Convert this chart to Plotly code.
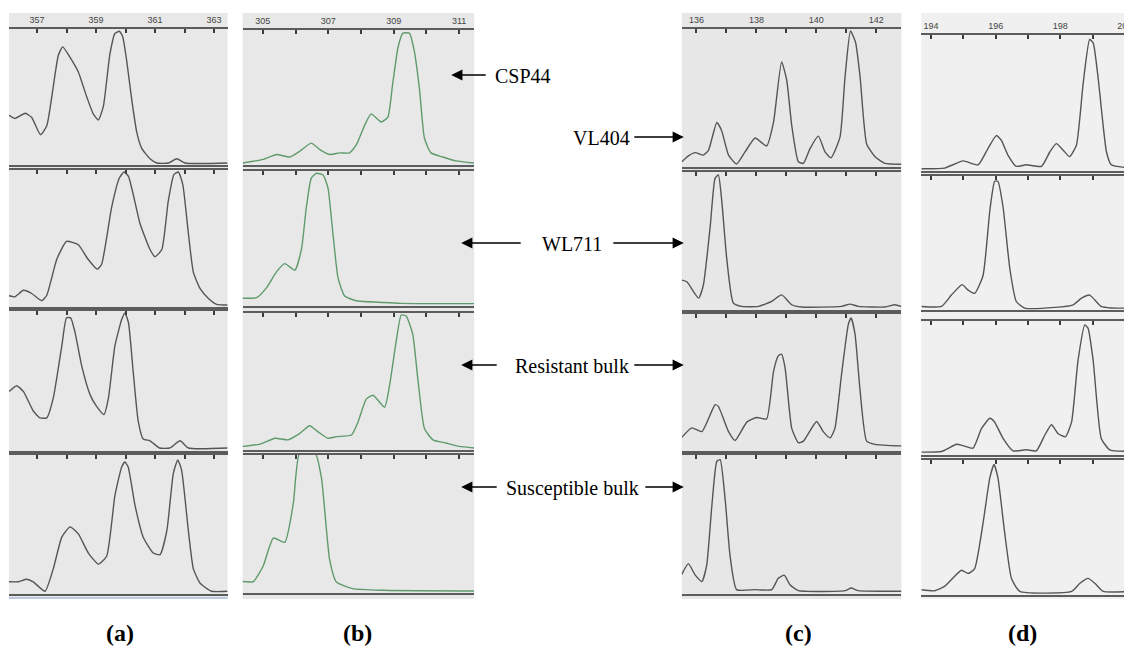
import plotly.graph_objects as go

# ---------------- data (signal height as % of the row, x in bp) ----------------
ROW_NAMES = ["CSP44 / VL404", "WL711", "Resistant bulk", "Susceptible bulk"]

A_TICKS = [357, 358, 359, 360, 361, 362, 363]
A_LABELS = ["357", "", "359", "", "361", "", "363"]
B_TICKS = [305, 306, 307, 308, 309, 310, 311]
B_LABELS = ["305", "", "307", "", "309", "", "311"]
C_TICKS = [136, 137, 138, 139, 140, 141, 142]
C_LABELS = ["136", "", "138", "", "140", "", "142"]
D_TICKS = [194, 195, 196, 197, 198, 199, 200]
D_LABELS = ["194", "", "196", "", "198", "", "200"]

A_ROW1_X = [356.05, 356.25, 356.6, 356.82, 357.12, 357.33, 357.72, 357.87, 358.12, 358.4, 358.68, 358.91, 359.08, 359.25,
            359.47, 359.64, 359.79, 359.9, 360.04, 360.21, 360.38, 360.55, 360.83, 361.06, 361.45, 361.74, 362.02, 363.46]
A_ROW1_Y = [36, 33.6, 37.5, 34.3, 21.3, 28, 81, 87.5, 79.6, 68.6, 50.2, 36.8, 32.4, 42.9,
            82, 97.6, 99.3, 95.6, 77, 47.8, 23.3, 11, 3.2, 0, 0, 3.2, 0, 0]
A_ROW2_X = [356.05, 356.25, 356.54, 356.82, 357.16, 357.33, 357.67, 358.0, 358.4, 358.73, 359.04, 359.19, 359.53, 359.79,
            359.95, 360.1, 360.49, 360.83, 361.0, 361.23, 361.45, 361.64, 361.79, 361.94, 362.13, 362.3, 362.53, 362.81,
            363.09, 363.46]
A_ROW2_Y = [6.9, 6.1, 11, 8.6, 3.2, 7.3, 34.2, 47.6, 45.1, 34.2, 26.8, 30.5, 73.2, 95,
            99.5, 96.3, 61, 41.5, 36.1, 41.5, 78, 97.6, 99.5, 90.3, 53.7, 24.4, 12.2, 4.9, 0.5, 0]
A_ROW3_X = [356.05, 356.31, 356.54, 356.88, 357.1, 357.33, 357.55, 357.84, 358.0, 358.14, 358.29, 358.51, 358.8, 359.02,
            359.27, 359.42, 359.64, 359.87, 359.98, 360.1, 360.26, 360.43, 360.6, 360.83, 361.15, 361.5, 361.85, 362.13,
            363.46]
A_ROW3_Y = [42, 46.3, 42, 27.6, 22.8, 22.8, 37.2, 75.5, 96, 96, 85.2, 61.2, 39.6, 31.2,
            25.2, 37.2, 75.5, 94.7, 99.5, 92.4, 56.4, 20.4, 7.2, 6, 0.7, 0.7, 6, 0.7, 0.7]
A_ROW4_X = [356.05, 356.37, 356.65, 356.87, 357.27, 357.55, 357.84, 358.12, 358.4, 358.74, 359.08, 359.36, 359.64, 359.87,
            359.98, 360.09, 360.32, 360.6, 360.94, 361.17, 361.4, 361.62, 361.77, 361.9, 362.13, 362.3, 362.53, 362.92,
            363.46]
A_ROW4_Y = [7.5, 7.5, 9.4, 7.5, 0.5, 17, 40.4, 48, 42.8, 28.7, 20.5, 26.3, 71, 92.2,
            95.8, 92.2, 64, 40.4, 28.7, 27.5, 45.2, 87.5, 97.4, 89.8, 45.2, 17, 6.4, 0.5, 0.5]

B_ROW1_X = [304.38, 305.01, 305.42, 305.82, 306.13, 306.48, 306.74, 307.04, 307.35, 307.65, 307.86, 308.11, 308.31,
            308.62, 308.82, 308.97, 309.13, 309.28, 309.48, 309.63, 309.79, 309.94, 310.14, 310.5, 310.9, 311.46]
B_ROW1_Y = [0, 2.8, 6.5, 4.6, 9, 15.1, 10.2, 6.5, 7.7, 7.7, 13.9, 28.6, 37.3,
            31.1, 34.8, 60.4, 87.5, 98.6, 98.6, 85, 55.7, 18.8, 7.7, 4.6, 1.6, 0]
B_ROW2_X = [304.38, 304.81, 305.11, 305.42, 305.67, 305.98, 306.18, 306.33, 306.48, 306.64, 306.84, 306.99, 307.14,
            307.3, 307.5, 307.86, 308.67, 309.2, 311.46]
B_ROW2_Y = [4.4, 4.9, 12.3, 24.6, 30.7, 25.7, 41.7, 73.5, 95.6, 99.3, 98, 88.2, 54,
            19.6, 6.1, 2.5, 1.2, 0.5, 0.3]
B_ROW3_X = [304.38, 304.91, 305.37, 305.77, 306.13, 306.43, 306.68, 306.99, 307.25, 307.71, 307.91, 308.16, 308.37,
            308.72, 308.87, 309.08, 309.23, 309.38, 309.58, 309.74, 309.94, 310.2, 310.6, 311.0, 311.46]
B_ROW3_Y = [1.2, 2.9, 7.3, 6.1, 11, 16.6, 12.2, 7.3, 8.5, 9.7, 19.5, 36.6, 39.5,
            30.5, 46.3, 80.5, 99.5, 98.8, 85.4, 51.2, 14.6, 6.1, 3.7, 1.2, 0]
B_ROW4_X = [304.38, 304.71, 305.01, 305.32, 305.67, 305.93, 306.13, 306.59, 306.79, 307.04, 307.25, 307.75, 308.67,
            311.46]
B_ROW4_Y = [7, 7, 18.6, 39.3, 36.1, 64.8, 103, 103, 84.2, 23.5, 6.6, 1.7, 0.5, 0]

C_ROW1_X = [135.51, 135.73, 135.96, 136.23, 136.4, 136.68, 136.84, 137.07, 137.34, 137.62, 137.96, 138.34, 138.57,
            138.84, 139.01, 139.18, 139.4, 139.57, 139.79, 140.07, 140.29, 140.49, 140.79, 140.96, 141.14, 141.31,
            141.46, 141.68, 141.96, 142.29, 142.84]
C_ROW1_Y = [2.4, 6.8, 9.2, 7.3, 10.9, 31.6, 25.5, 7.3, 0.7, 9.7, 20, 14.1, 31.6,
            76.6, 63.3, 29.2, 2.4, 1.2, 12.2, 21.4, 9.7, 5.3, 20.7, 65.7, 99.5, 91,
            65.7, 15.6, 6.1, 1.2, 0.5]
C_ROW2_X = [135.51, 135.68, 136.07, 136.23, 136.46, 136.62, 136.73, 136.84, 137.01, 137.23, 137.51, 138.07, 138.51,
            138.84, 139.18, 139.51, 140.84, 141.12, 141.4, 142.29, 142.62, 142.84]
C_ROW2_Y = [20.7, 19.5, 7.3, 17, 61, 96.3, 98.8, 80.5, 36.6, 3.7, 1.2, 1.2, 4.9,
            9.7, 2.4, 0.7, 1.2, 2.9, 1.2, 0.7, 2.4, 1.2]
C_ROW3_X = [135.51, 135.84, 136.18, 136.62, 136.73, 137.07, 137.29, 137.68, 138.01, 138.34, 138.57, 138.73, 138.84,
            138.96, 139.18, 139.4, 139.57, 140.01, 140.23, 140.46, 140.62, 140.84, 141.07, 141.16, 141.29, 141.46,
            141.68, 141.96, 142.84]
C_ROW3_Y = [8.7, 15.8, 13, 33.1, 31.9, 13, 6.4, 20.1, 23.6, 22.5, 57.9, 69.7, 70.9,
            60.3, 15.4, 4.7, 5.9, 20.6, 13, 8.3, 15.4, 55.5, 93.4, 98.1, 86.3, 43.8,
            5.9, 3.5, 2.3]
C_ROW4_X = [135.51, 135.73, 135.96, 136.18, 136.34, 136.51, 136.68, 136.79, 136.96, 137.12, 137.34, 137.96, 138.51,
            138.73, 138.93, 139.12, 139.4, 140.96, 141.16, 141.4, 142.84]
C_ROW4_Y = [13, 20.9, 12.4, 7.7, 19.6, 62.8, 96.4, 97.6, 67.6, 26.8, 1.7, 1.7, 1.7,
            10.1, 12.4, 5.3, 1, 1, 2.9, 1, 0.5]

D_ROW1_X = [193.7, 194.42, 194.99, 195.46, 195.76, 196.02, 196.18, 196.38, 196.64, 196.95, 197.42, 197.68, 197.88,
            198.09, 198.29, 198.5, 198.71, 198.91, 199.02, 199.17, 199.43, 199.58, 200.16]
D_ROW1_Y = [0.2, 0.7, 6.1, 3.2, 15.4, 25.2, 21.5, 10.5, 2, 3.2, 2, 13, 19.1,
            14.2, 9.3, 17.9, 64.5, 97.6, 95.1, 69.3, 13, 3.2, 0.7]
D_ROW2_X = [193.7, 194.32, 194.63, 194.96, 195.15, 195.35, 195.61, 195.82, 195.97, 196.07, 196.23, 196.44, 196.64,
            196.9, 197.83, 198.4, 198.66, 198.91, 199.27, 199.58, 200.16]
D_ROW2_Y = [1.2, 1.2, 9.9, 17.9, 13.7, 11.2, 24.9, 74.6, 97, 97, 77.1, 29.9, 5,
            0, 0.5, 2.5, 7.5, 9.9, 1.2, 0, 0]
D_ROW3_X = [193.7, 194.32, 194.79, 194.99, 195.3, 195.56, 195.82, 195.97, 196.23, 196.54, 196.95, 197.26, 197.52,
            197.73, 197.93, 198.16, 198.35, 198.55, 198.76, 198.86, 199.02, 199.27, 199.53, 200.16]
D_ROW3_Y = [0.7, 1.2, 6.7, 5.7, 3.7, 18.6, 26.6, 23.6, 11.2, 1.7, 2.5, 1.7, 13.6,
            21.6, 14.9, 12.4, 23.6, 70.7, 98, 95.5, 70.7, 11.2, 2.5, 1.2]
D_ROW4_X = [193.7, 194.11, 194.42, 194.94, 195.15, 195.35, 195.61, 195.82, 195.95, 196.07, 196.28, 196.49, 196.75,
            198.35, 198.61, 198.86, 199.07, 199.33, 200.16]
D_ROW4_Y = [2.5, 1.7, 5, 17.3, 14.8, 18.5, 53.1, 87.6, 97.6, 87.6, 45.7, 11.1, 1.2,
            1.2, 7.4, 11.1, 7.4, 1.2, 1.2]

PANEL_LABELS = ["(a)", "(b)", "(c)", "(d)"]
ARROW_LABELS = ["CSP44", "VL404", "WL711", "Resistant bulk", "Susceptible bulk"]

# ---------------- layout geometry (page pixels) ----------------
PAGE_W, PAGE_H = 1132, 647
OFF = 8                      # default body margin of the html page
W, H = PAGE_W - OFF, PAGE_H - OFF

panels = [
    dict(px=(9, 228), rng=(356.05, 363.46), ticks=A_TICKS, labels=A_LABELS, bg="#e8e8e8", color="#555555",
         rows=[(29, 165), (170, 307), (311, 451), (455, 594)],
         data=[(A_ROW1_X, A_ROW1_Y), (A_ROW2_X, A_ROW2_Y), (A_ROW3_X, A_ROW3_Y), (A_ROW4_X, A_ROW4_Y)]),
    dict(px=(243, 475), rng=(304.38, 311.46), ticks=B_TICKS, labels=B_LABELS, bg="#e8e8e8", color="#5f9a6c",
         rows=[(30, 165), (171, 306), (313, 450), (455, 593)],
         data=[(B_ROW1_X, B_ROW1_Y), (B_ROW2_X, B_ROW2_Y), (B_ROW3_X, B_ROW3_Y), (B_ROW4_X, B_ROW4_Y)]),
    dict(px=(683, 903), rng=(135.51, 142.84), ticks=C_TICKS, labels=C_LABELS, bg="#e7e7e7", color="#555555",
         rows=[(29, 167), (172, 310), (314, 451), (455, 594)],
         data=[(C_ROW1_X, C_ROW1_Y), (C_ROW2_X, C_ROW2_Y), (C_ROW3_X, C_ROW3_Y), (C_ROW4_X, C_ROW4_Y)]),
    dict(px=(923, 1132), rng=(193.7, 200.16), ticks=D_TICKS, labels=D_LABELS, bg="#f0f0f0", color="#555555",
         rows=[(35, 171), (176, 310), (321, 455), (460, 595)],
         data=[(D_ROW1_X, D_ROW1_Y), (D_ROW2_X, D_ROW2_Y), (D_ROW3_X, D_ROW3_Y), (D_ROW4_X, D_ROW4_Y)]),
]

fig = go.Figure()
layout = dict(
    width=W, height=H, margin=dict(l=0, r=0, t=0, b=0),
    paper_bgcolor="white", plot_bgcolor="rgba(0,0,0,0)", showlegend=False,
)
shapes = []
annotations = []


def fx(px):
    return min(max((px - OFF) / W, 0), 1)


def fy(py):
    return min(max(1 - (py - OFF) / H, 0), 1)


idx = 0
for p in panels:
    x0, x1 = p["px"]
    shapes.append(dict(type="rect", xref="paper", yref="paper", x0=fx(x0), x1=fx(x1), y0=fy(599), y1=fy(13),
                       fillcolor=p["bg"], line=dict(width=0), layer="below"))
    for r, ((top, base), (xs, ys)) in enumerate(zip(p["rows"], p["data"])):
        idx += 1
        xa = "xaxis" if idx == 1 else f"xaxis{idx}"
        ya = "yaxis" if idx == 1 else f"yaxis{idx}"
        xr = "x" if idx == 1 else f"x{idx}"
        yr = "y" if idx == 1 else f"y{idx}"
        layout[xa] = dict(
            domain=[fx(x0), fx(x1)], range=list(p["rng"]), anchor=yr, side="top",
            showline=True, linecolor="#5c5c5c", linewidth=2, mirror=True,
            ticks="inside", ticklen=4, tickwidth=1.5, tickcolor="#3c3c3c",
            tickvals=p["ticks"], ticktext=p["labels"], showticklabels=(r == 0),
            ticklabeloverflow="allow",
            tickfont=dict(family="Arial, Liberation Sans", size=9, color="#444444"),
            showgrid=False, zeroline=False, fixedrange=True,
        )
        layout[ya] = dict(domain=[fy(base), fy(top)], range=[-1.5, 101], anchor=xr, visible=False,
                          showgrid=False, zeroline=False, fixedrange=True)
        fig.add_trace(go.Scatter(x=xs, y=ys, xaxis=xr, yaxis=yr, mode="lines", name=ROW_NAMES[r],
                                 line=dict(color=p["color"], width=1.4, shape="spline", smoothing=0.5),
                                 cliponaxis=True, hoverinfo="skip"))

# light blue bottom edge of panel (a)
shapes.append(dict(type="line", xref="paper", yref="paper", x0=fx(9), x1=fx(228), y0=fy(598), y1=fy(598),
                   line=dict(color="#bccbe0", width=2)))

serif = "Liberation Serif, Times New Roman, serif"


def arrow(head_x, tail_x, y):
    annotations.append(dict(x=fx(head_x), y=fy(y), xref="paper", yref="paper", text="",
                            showarrow=True, ax=tail_x - head_x, ay=0, arrowhead=2, arrowsize=1.6,
                            arrowwidth=1.4, arrowcolor="black", standoff=0, startstandoff=0))


def label(x, y, text, anchor="center", size=20):
    annotations.append(dict(x=fx(x), y=fy(y), xref="paper", yref="paper", text=text, showarrow=False,
                            xanchor=anchor, yanchor="middle", font=dict(family=serif, size=size, color="black")))


# CSP44
arrow(452, 488, 75)
label(494, 76, ARROW_LABELS[0], "left")
# VL404
label(633, 138, ARROW_LABELS[1], "right")
arrow(685, 634, 137)
# WL711
arrow(462, 523, 243)
label(573, 244, ARROW_LABELS[2])
arrow(685, 613, 243)
# Resistant bulk
arrow(462, 499, 365)
label(573, 366, ARROW_LABELS[3])
arrow(685, 634, 365)
# Susceptible bulk
arrow(462, 499, 487)
label(574, 488, ARROW_LABELS[4])
arrow(685, 645, 487)

for lbl, cx in zip(PANEL_LABELS, [120, 358, 800, 1024]):
    label(cx, 633, f"<b>{lbl}</b>", size=24)

layout["shapes"] = shapes
layout["annotations"] = annotations
fig.update_layout(**layout)
fig.write_html("out.html")
